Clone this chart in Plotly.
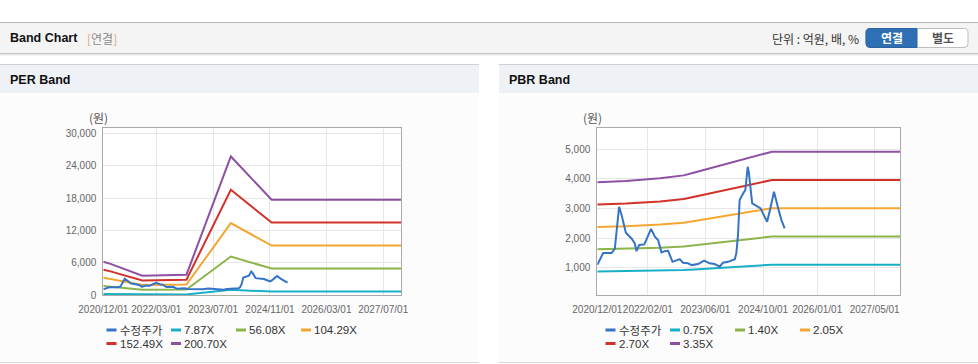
import plotly.graph_objects as go

W, H = 978, 364

# ---------------- data ----------------
price_name = "수정주가"
price_dates = ["2020-12-01", "2021-01-20", "2021-04-01", "2021-04-28", "2021-06-03", "2021-06-24",
               "2021-07-30", "2021-09-16", "2021-10-14", "2021-10-28", "2021-11-20", "2022-01-02",
               "2022-02-28", "2022-04-01", "2022-04-28", "2022-05-27", "2022-06-24", "2022-07-22",
               "2022-08-28", "2022-10-01", "2022-10-28", "2022-11-25", "2023-01-06", "2023-02-06",
               "2023-04-01", "2023-05-22", "2023-07-07", "2023-08-19", "2023-10-01", "2023-10-28",
               "2023-12-10", "2024-02-05", "2024-02-18", "2024-03-03", "2024-03-17", "2024-04-15",
               "2024-05-04", "2024-05-24", "2024-06-02", "2024-07-01", "2024-08-12", "2024-09-10",
               "2024-10-07", "2024-11-04", "2024-11-28", "2025-01-01", "2025-02-06", "2025-03-05",
               "2025-04-01"]
price_values = [1100, 1500, 1500, 1650, 3060, 2780,
                2180, 1990, 1820, 1560, 1770, 1790,
                2310, 2050, 1935, 1520, 1560, 1575,
                1200, 1240, 1290, 1170, 1150, 1090,
                1125, 1240, 1150, 1125, 1035, 1170,
                1200, 1290, 1490, 2100, 3290, 3510,
                3625, 4410, 4240, 3175, 3060, 3005,
                2780, 2555, 2950, 3570, 3005, 2610,
                2330]

per_band_dates = ["2020-12-01", "2021-02-01", "2021-11-01", "2022-11-15", "2023-12-01", "2024-11-15", "2027-12-01"]
per_band_names = ["7.87X", "56.08X", "104.29X", "152.49X", "200.70X"]
per_787 = [244, 228, 142, 150, 1007, 694, 694]
per_5608 = [1738, 1626, 1015, 1066, 7178, 4946, 4946]
per_10429 = [3233, 3024, 1888, 1982, 13349, 9198, 9198]
per_15249 = [4727, 4422, 2760, 2897, 19519, 13450, 13450]
per_20070 = [6222, 5820, 3633, 3813, 25690, 17702, 17702]

pbr_band_dates = ["2020-12-01", "2021-08-01", "2022-05-15", "2022-12-01", "2023-03-01", "2024-12-15", "2027-12-01"]
pbr_band_names = ["0.75X", "1.40X", "2.05X", "2.70X", "3.35X"]
pbr_075 = [871, 880, 900, 922, 945, 1101, 1101]
pbr_140 = [1626, 1642, 1680, 1722, 1764, 2056, 2056]
pbr_205 = [2380, 2405, 2460, 2521, 2582, 3011, 3011]
pbr_270 = [3135, 3167, 3240, 3321, 3401, 3965, 3965]
pbr_335 = [3890, 3930, 4020, 4120, 4220, 4920, 4920]

per_x_ticks = ["2020-12-01", "2022-03-01", "2023-07-01", "2024-11-01", "2026-03-01", "2027-07-01"]
pbr_x_ticks = ["2020-12-01", "2022-02-01", "2023-06-01", "2024-10-01", "2026-01-01", "2027-05-01"]
per_y_ticks = [0, 6000, 12000, 18000, 24000, 30000]
pbr_y_ticks = [1000, 2000, 3000, 4000, 5000]

# ---------------- styles ----------------
price_color = "#3473c6"
band_colors = ["#17b0c6", "#8cb44b", "#f5a632", "#d3302a", "#8e50a0"]
NUM_FONT = "Liberation Sans, Arial, sans-serif"
TICK_FONT = "Liberation Sans, Arial, sans-serif"
KR_FONT = "Noto Sans CJK KR, Liberation Sans, sans-serif"
BOLD_FONT = "Liberation Sans, Arial, sans-serif"


def px(x):
    return x / W


def py(y):
    return 1 - y / H


fig = go.Figure()

per_bands = [per_787, per_5608, per_10429, per_15249, per_20070]
pbr_bands = [pbr_075, pbr_140, pbr_205, pbr_270, pbr_335]

for name, vals, col in zip(per_band_names, per_bands, band_colors):
    fig.add_trace(go.Scatter(x=per_band_dates, y=vals, mode="lines", name=name,
                             line=dict(color=col, width=2), xaxis="x", yaxis="y", hoverinfo="skip"))
fig.add_trace(go.Scatter(x=price_dates, y=price_values, mode="lines", name=price_name,
                         line=dict(color=price_color, width=2), xaxis="x", yaxis="y"))

for name, vals, col in zip(pbr_band_names, pbr_bands, band_colors):
    fig.add_trace(go.Scatter(x=pbr_band_dates, y=vals, mode="lines", name=name,
                             line=dict(color=col, width=2), xaxis="x2", yaxis="y2", hoverinfo="skip"))
fig.add_trace(go.Scatter(x=price_dates, y=price_values, mode="lines", name=price_name,
                         line=dict(color=price_color, width=2), xaxis="x2", yaxis="y2"))

# plot areas (pixels)
PER_L, PER_R = 103.3, 401.0
PBR_L, PBR_R = 597.3, 900.0
P_TOP, P_BOT = 128.3, 295.3
X_END = "2027-12-01"


def xfmt(ticks):
    return [t.replace("-", "/") for t in ticks]


def yfmt(ticks):
    return [f"{t:,}" for t in ticks]


axis_common = dict(showgrid=True, gridcolor="#e7e7e7", gridwidth=1, showline=True,
                   linecolor="#aaaaaa", linewidth=1, mirror=True, ticks="", zeroline=False,
                   tickangle=0, automargin=False,
                   tickfont=dict(family=TICK_FONT, size=10, color="#666666"), fixedrange=True)

fig.update_layout(
    template="none",
    xaxis=dict(domain=[px(PER_L), px(PER_R)], anchor="y", type="date", ticklabelstandoff=5,
               range=["2020-12-01", X_END], tickvals=per_x_ticks, ticktext=xfmt(per_x_ticks), **axis_common),
    yaxis=dict(domain=[py(P_BOT), py(P_TOP)], anchor="x", range=[0, 30900], ticklabelstandoff=4,
               tickvals=per_y_ticks, ticktext=yfmt(per_y_ticks), **axis_common),
    xaxis2=dict(domain=[px(PBR_L), px(PBR_R)], anchor="y2", type="date", ticklabelstandoff=5,
                range=["2020-12-01", X_END], tickvals=pbr_x_ticks, ticktext=xfmt(pbr_x_ticks), **axis_common),
    yaxis2=dict(domain=[py(P_BOT), py(P_TOP)], anchor="x2", range=[70, 5710], ticklabelstandoff=4,
                tickvals=pbr_y_ticks, ticktext=yfmt(pbr_y_ticks), **axis_common),
)

shapes = []


def rect(x0, y0, x1, y1, fill, line=None, lw=0):
    return dict(type="rect", xref="paper", yref="paper", x0=px(x0), x1=px(x1), y0=py(y1), y1=py(y0),
                fillcolor=fill, line=dict(color=line or fill, width=lw), layer="below")


def hline(x0, x1, y, color, w=1):
    return dict(type="line", xref="paper", yref="paper", x0=px(x0), x1=px(x1), y0=py(y), y1=py(y),
                line=dict(color=color, width=w), layer="below")


# top header bar
shapes.append(rect(0, 22, W, 53, "#f4f4f4"))
shapes.append(hline(0, W, 22.5, "#b5b5b5"))
shapes.append(hline(0, W, 53.5, "#c4c4c4"))
shapes.append(hline(0, W, 54.5, "#e6e6e6"))
shapes.append(hline(0, W, 55.5, "#f3f3f3"))

# panels
for (l, r) in [(0, 479), (499, W)]:
    shapes.append(rect(l, 93, r, 362, "#fcfcfc"))
    shapes.append(rect(l, 64.5, r, 93, "#eef2f7"))
    shapes.append(hline(l, r, 64.5, "#d0d0d0"))
    shapes.append(hline(l, r, 362.5, "#d8d8d8"))

# white plot areas
shapes.append(rect(PER_L, P_TOP, PER_R, P_BOT, "#ffffff"))
shapes.append(rect(PBR_L, P_TOP, PBR_R, P_BOT, "#ffffff"))


def rounded_path(x0, y0, x1, y1, r, left=True, right=True):
    def P(x, y):
        return f"{px(x):.5f},{py(y):.5f}"
    rl = r if left else 0
    rr = r if right else 0
    d = f"M {P(x0 + rl, y0)} L {P(x1 - rr, y0)} "
    d += f"Q {P(x1, y0)} {P(x1, y0 + rr)} " if rr else ""
    d += f"L {P(x1, y1 - rr)} "
    d += f"Q {P(x1, y1)} {P(x1 - rr, y1)} " if rr else ""
    d += f"L {P(x0 + rl, y1)} "
    d += f"Q {P(x0, y1)} {P(x0, y1 - rl)} " if rl else ""
    d += f"L {P(x0, y0 + rl)} "
    d += f"Q {P(x0, y0)} {P(x0 + rl, y0)} " if rl else ""
    return d + "Z"


# buttons
shapes.append(dict(type="path", xref="paper", yref="paper", path=rounded_path(866, 28.5, 968, 47.5, 4),
                   fillcolor="#ffffff", line=dict(color="#bdbdbd", width=1), layer="above"))
shapes.append(dict(type="path", xref="paper", yref="paper", path=rounded_path(866, 28.5, 917, 47.5, 4, right=False),
                   fillcolor="#2f6fb3", line=dict(color="#2a64a3", width=1), layer="above"))

annotations = []


def text(x, y, s, size=12, color="#333", family=KR_FONT, xanchor="left", bold=False):
    if bold:
        s = f"<b>{s}</b>"
    annotations.append(dict(x=px(x), y=py(y), xref="paper", yref="paper", text=s, showarrow=False,
                            xanchor=xanchor, yanchor="middle", borderpad=0,
                            font=dict(size=size, color=color, family=family)))


text(9, 38.5, "Band Chart", size=12.5, color="#111", family=BOLD_FONT, bold=True)
text(86, 38.5, "<span style='color:#e0a46a'>[</span>연결<span style='color:#e0a46a'>]</span>",
     size=12, color="#8a8a8a")
text(860, 38.5, "단위 : 억원, 배, %", size=12, color="#333", xanchor="right")
text(891.5, 38, "연결", size=12, color="#ffffff", xanchor="center", bold=True)
text(942.5, 38, "별도", size=12, color="#555555", xanchor="center", bold=True)

text(9, 80, "PER Band", size=12.5, color="#111", family=BOLD_FONT, bold=True)
text(508, 80, "PBR Band", size=12.5, color="#111", family=BOLD_FONT, bold=True)

text(98, 118, "(원)", size=12, color="#555", xanchor="center")
text(592, 118, "(원)", size=12, color="#555", xanchor="center")


# custom legends
def legend(x_start, names, colors):
    offsets = [0, 64.5, 129.5, 194.5]
    rows = [330, 343.5]
    for i, (n, c) in enumerate(zip(names, colors)):
        row, colm = divmod(i, 4)
        x0 = x_start + offsets[colm]
        y = rows[row]
        shapes.append(dict(type="line", xref="paper", yref="paper", x0=px(x0), x1=px(x0 + 10),
                           y0=py(y), y1=py(y), line=dict(color=c, width=3), layer="above"))
        if n == price_name:
            text(x0 + 12, y, n, size=11.5, color="#333", family=KR_FONT)
        else:
            text(x0 + 12, y, n, size=11.5, color="#333", family=NUM_FONT)


legend(106.5, [price_name] + per_band_names, [price_color] + band_colors)
legend(605.5, [price_name] + pbr_band_names, [price_color] + band_colors)

fig.update_layout(
    width=W, height=H, margin=dict(l=0, r=0, t=0, b=0, pad=0, autoexpand=False),
    paper_bgcolor="#ffffff", plot_bgcolor="rgba(0,0,0,0)",
    showlegend=False, shapes=shapes, annotations=annotations,
    hovermode="closest",
)

fig.write_html("out.html", config={"responsive": False, "displayModeBar": False},
               post_script="document.body.style.margin='0';document.body.style.overflow='hidden';")
